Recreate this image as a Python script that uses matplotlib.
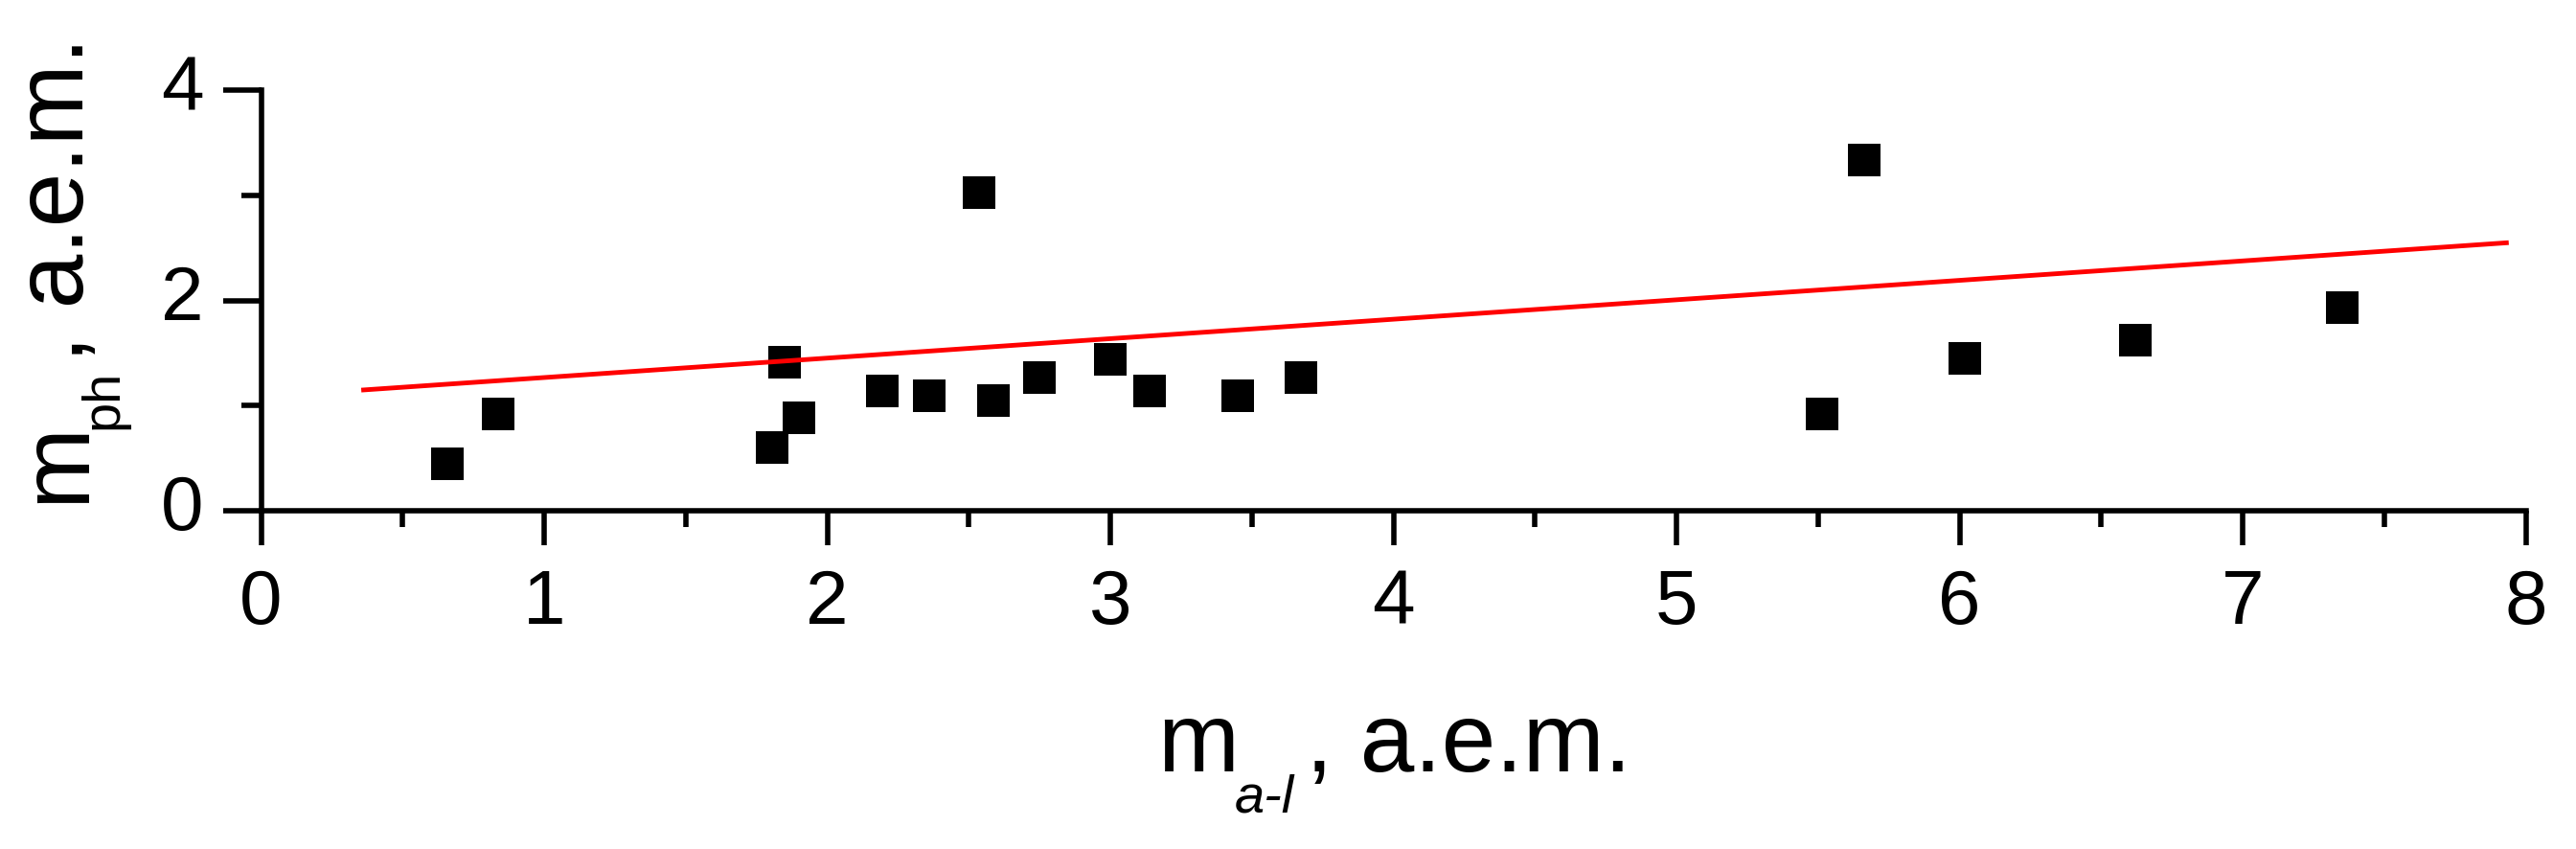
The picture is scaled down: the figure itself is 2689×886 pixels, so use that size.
import matplotlib
matplotlib.use("Agg")
import matplotlib.pyplot as plt
from matplotlib.ticker import MultipleLocator
from matplotlib.transforms import IdentityTransform

plt.rcParams['font.family'] = ['Liberation Sans', 'DejaVu Sans']

# data
m_al = [0.658, 0.838, 1.806, 1.85, 1.90, 2.196, 2.36, 2.537, 2.586, 2.750,
        3.00, 3.139, 3.449, 3.674, 5.514, 5.662, 6.019, 6.62, 7.352]
m_ph = [0.44, 0.92, 0.595, 1.41, 0.88, 1.14, 1.09, 3.03, 1.05, 1.27,
        1.44, 1.14, 1.09, 1.27, 0.92, 3.34, 1.445, 1.62, 1.93]
fit_x = [0.354, 7.94]
fit_y = [1.146, 2.55]
x_ticks = [0, 1, 2, 3, 4, 5, 6, 7, 8]
y_ticks = [0, 2, 4]

W, H = 2689, 886
fig = plt.figure(figsize=(W / 100, H / 100), dpi=100)
ax = fig.add_axes([272.5 / W, (H - 532.7) / H, (2636.5 - 272.5) / W, (532.7 - 94.3) / H])

ax.plot(m_al, m_ph, linestyle='none', marker='s', color='black', ms=24, mew=0, zorder=3)
ax.plot(fit_x, fit_y, color='#ff0000', lw=3.5, zorder=4, solid_capstyle='butt')

ax.set_xlim(0, 8)
ax.set_ylim(0, 4)
lw = 4.0
for s in ('top', 'right'):
    ax.spines[s].set_visible(False)
for s in ('left', 'bottom'):
    ax.spines[s].set_linewidth(lw)

ax.set_xticks(x_ticks)
ax.set_yticks(y_ticks)
ax.set_xticklabels([str(t) for t in x_ticks])
ax.set_yticklabels([str(t) for t in y_ticks])
ax.xaxis.set_minor_locator(MultipleLocator(0.5))
ax.yaxis.set_minor_locator(MultipleLocator(1))

ax.tick_params(axis='x', which='major', direction='out', length=26, width=lw,
               pad=17.3, labelsize=57.6)
ax.tick_params(axis='x', which='minor', direction='out', length=12.2, width=lw)
ax.tick_params(axis='y', which='major', direction='out', length=28.8, width=lw,
               pad=14.5, labelsize=57.6)
ax.tick_params(axis='y', which='minor', direction='out', length=15.1, width=lw)
for lbl in ax.get_yticklabels():
    lbl.set_va('center')

main_fs = 73.4
sub_fs = 40.3
tr = IdentityTransform()

# x label: m_{a-l}, a.e.m.
fig.text(1208, H - 805, 'm', fontsize=main_fs, transform=tr, ha='left', va='baseline')
fig.text(1289, H - 848, 'a-l', fontsize=sub_fs, style='italic', transform=tr,
         ha='left', va='baseline')
fig.text(1363, H - 805, ', a.e.m.', fontsize=main_fs, transform=tr, ha='left', va='baseline')

# y label: m_{ph}, a.e.m. (rotated)
fig.text(87, H - 525, 'm', fontsize=main_fs, transform=tr, rotation=90,
         rotation_mode='anchor', ha='left', va='baseline')
fig.text(122, H - 448, 'ph', fontsize=sub_fs, transform=tr, rotation=90,
         rotation_mode='anchor', ha='left', va='baseline')
fig.text(87, H - 378, ', a.e.m.', fontsize=main_fs, transform=tr, rotation=90,
         rotation_mode='anchor', ha='left', va='baseline')

fig.savefig('out.png', dpi=100, facecolor='white')
